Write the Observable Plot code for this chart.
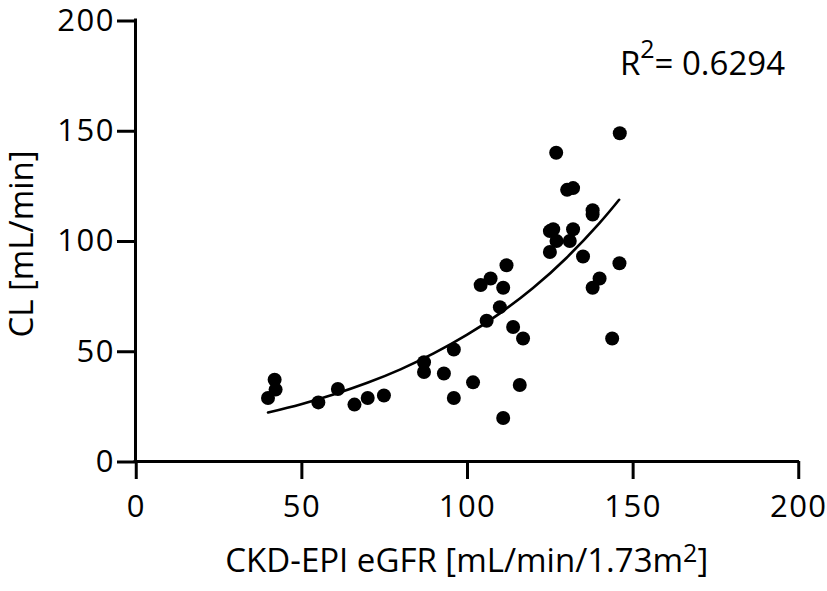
<!DOCTYPE html>
<html><head><meta charset="utf-8">
<script src="https://cdn.jsdelivr.net/npm/d3@7"></script>
<script src="https://cdn.jsdelivr.net/npm/@observablehq/plot@0.6"></script>
<style>
html,body{margin:0;padding:0;background:#fff;}
svg{display:block;}
g[aria-label="x-axis tick label"] text, g[aria-label="y-axis tick label"] text { letter-spacing: 1.5px; }
</style>
</head><body><div id="chart"></div>
<script>
// Observed data (eGFR vs CL)
const egfr = [40.0, 42.0, 42.3, 55.2, 61.1, 66.1, 70.1, 75.0, 87.1, 87.1, 93.1, 96.1, 96.1, 101.9,
  104.2, 107.2, 106.0, 110.0, 111.0, 112.0, 111.0, 114.0, 117.0, 116.0, 125.1, 125.1, 126.1,
  127.1, 127.0, 130.3, 132.1, 131.1, 132.1, 135.1, 138.0, 138.0, 138.0, 140.1, 143.9, 146.2, 146.1];
const cl = [28.8, 37.1, 32.6, 26.8, 32.9, 25.8, 28.8, 29.9, 45.0, 40.6, 39.9, 50.8, 28.8, 35.9,
  80.0, 83.0, 63.8, 70.0, 78.8, 89.0, 19.7, 61.0, 55.8, 34.7, 95.0, 104.5, 105.3,
  100.0, 140.0, 123.2, 124.0, 100.0, 105.3, 93.0, 114.0, 112.0, 78.8, 83.0, 55.8, 148.9, 89.9];
// Fitted curve
const fitX = [40, 50, 60, 70, 80, 90, 100, 110, 120, 130, 140, 146];
const fitY = [22.2, 26.0, 30.5, 35.7, 41.8, 49.0, 57.4, 67.2, 78.7, 92.2, 108.0, 118.7];
const xTicks = [0, 50, 100, 150, 200];
const yTicks = [0, 50, 100, 150, 200];
const xLabel = ["CKD-EPI eGFR [mL/min/1.73m", "2", "]"];
const yLabel = "CL [mL/min]";
const r2Label = ["R", "2", "= 0.6294"];

const points = egfr.map((x, i) => ({x, y: cl[i]}));
const fit = fitX.map((x, i) => ({x, y: fitY[i]}));

const font = "'Open Sans', 'Noto Sans', sans-serif";
const chart = Plot.plot({
  width: 827, height: 591,
  marginLeft: 135, marginRight: 29.5, marginTop: 20, marginBottom: 130,
  style: {fontFamily: font, background: "#fff", color: "#000"},
  x: {domain: [0, 200]},
  y: {domain: [0, 200]},
  marks: [
    Plot.axisX({ticks: xTicks, tickSize: 18, tickPadding: 15.5, strokeWidth: 3, fontSize: 31, label: null, fill: "#000", dx: 0.75}),
    Plot.axisY({ticks: yTicks, tickSize: 18, tickPadding: 2.5, strokeWidth: 3, fontSize: 31, label: null, dy: 0.5, fill: "#000"}),
    Plot.ruleY([0], {x1: 0, x2: 200, strokeWidth: 3, strokeLinecap: "square"}),
    Plot.ruleX([0], {y1: 0, y2: 200, strokeWidth: 3, strokeLinecap: "square"}),
    Plot.line(fit, {x: "x", y: "y", curve: "natural", strokeWidth: 2.6, stroke: "#000"}),
    Plot.dot(points, {x: "x", y: "y", r: 7, fill: "#000", stroke: "none"}),
    Plot.text([xLabel.join("")], {frameAnchor: "bottom", dy: 110.4, fontSize: 33, fill: "#000"}),
    Plot.text([yLabel], {frameAnchor: "left", textAnchor: "middle", rotate: -90, dx: -113, dy: 3, fontSize: 33, fill: "#000"}),
    Plot.text([r2Label.join("")], {frameAnchor: "top-right", textAnchor: "end", dx: -13, dy: 31.1, fontSize: 33, fill: "#000"})
  ]
});

function superscript(svg, parts, shiftPx, supSize) {
  const full = parts.join("");
  d3.select(svg).selectAll("text").each(function() {
    if (this.textContent === full) {
      const t = d3.select(this);
      t.text(null);
      t.append("tspan").text(parts[0]);
      t.append("tspan").attr("dy", -shiftPx).attr("font-size", supSize).text(parts[1]);
      t.append("tspan").attr("dy", shiftPx).text(parts[2]);
    }
  });
}
superscript(chart, xLabel, 10, 25);
superscript(chart, r2Label, 16.7, 25);

document.getElementById("chart").appendChild(chart);
</script>
</body></html>
